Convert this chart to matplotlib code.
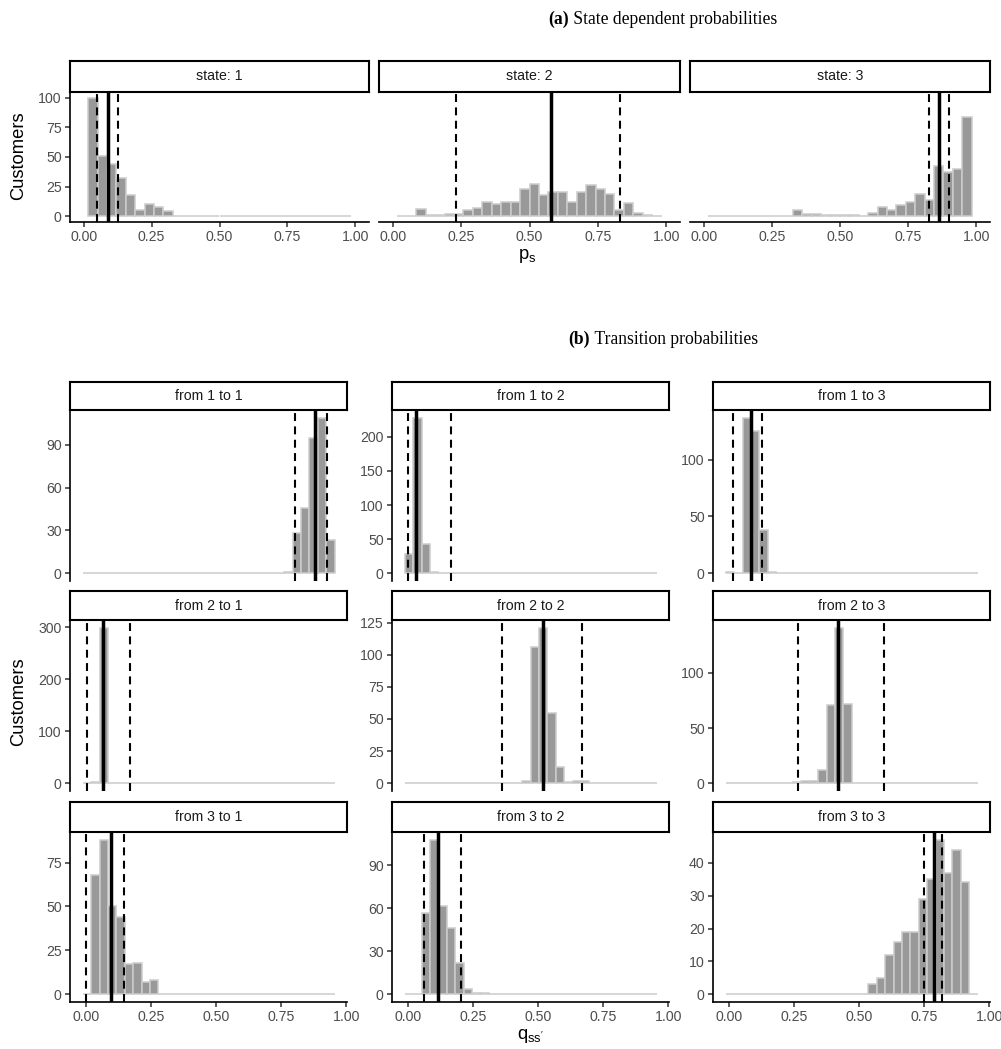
import numpy as np
import matplotlib
matplotlib.use("Agg")
import matplotlib.pyplot as plt

plt.rcParams["font.family"] = ["Liberation Sans", "DejaVu Sans"]
plt.rcParams["mathtext.fontset"] = "custom"
plt.rcParams["mathtext.rm"] = "Liberation Sans"
plt.rcParams["mathtext.it"] = "Liberation Sans:italic"
plt.rcParams["mathtext.bf"] = "Liberation Sans:bold"

# ---------------- data ----------------
# (a) state dependent probabilities: 28 bins of width 1/29 on [1/58, 57/58]
STATE_LABELS = ["state: 1", "state: 2", "state: 3"]
STATE_COUNTS = [
    [100, 51, 44, 32, 18, 5, 10, 8, 4, 0, 0, 0, 0, 0, 0, 0, 0, 0, 0, 0, 0, 0, 0, 0, 0, 0, 0, 0],
    [0, 0, 6, 1, 1, 2, 2, 5, 7, 12, 10, 12, 12, 23, 27, 18, 20, 20, 12, 20, 26, 23, 19, 5, 11, 3, 1, 0],
    [0, 0, 0, 0, 0, 0, 0, 0, 0, 5, 2, 2, 1, 1, 1, 1, 0, 3, 8, 5, 9, 12, 19, 14, 42, 37, 40, 84],
]
# lower bound, mean, upper bound
STATE_LINES = [
    [0.049, 0.089, 0.127],
    [0.230, 0.578, 0.829],
    [0.827, 0.863, 0.899],
]
STATE_YTICKS = [0, 25, 50, 75, 100]

# (b) transition probabilities: 30 bins on [-0.0128, 0.9553]
TRANS_LABELS = [
    "from 1 to 1", "from 1 to 2", "from 1 to 3",
    "from 2 to 1", "from 2 to 2", "from 2 to 3",
    "from 3 to 1", "from 3 to 2", "from 3 to 3",
]
TRANS_COUNTS = [
    [0, 0, 0, 0, 0, 0, 0, 0, 0, 0, 0, 0, 0, 0, 0, 0, 0, 0, 0, 0, 0, 0, 0, 0, 1, 28, 46, 95, 109, 23],
    [28, 228, 43, 2, 0, 0, 0, 0, 0, 0, 0, 0, 0, 0, 0, 0, 0, 0, 0, 0, 0, 0, 0, 0, 0, 0, 0, 0, 0, 0],
    [1, 0, 137, 125, 38, 1, 0, 0, 0, 0, 0, 0, 0, 0, 0, 0, 0, 0, 0, 0, 0, 0, 0, 0, 0, 0, 0, 0, 0, 0],
    [0, 3, 299, 1, 0, 0, 0, 0, 0, 0, 0, 0, 0, 0, 0, 0, 0, 0, 0, 0, 0, 0, 0, 0, 0, 0, 0, 0, 0, 0],
    [0, 0, 0, 0, 0, 0, 0, 0, 0, 0, 0, 0, 0, 0, 2, 106, 121, 55, 13, 1, 2, 2, 0, 0, 0, 0, 0, 0, 0, 0],
    [0, 0, 0, 0, 0, 0, 0, 0, 1, 2, 2, 12, 71, 141, 72, 0, 0, 0, 0, 0, 0, 0, 0, 0, 0, 0, 0, 0, 0, 0],
    [0, 68, 88, 50, 44, 17, 18, 7, 8, 0, 0, 0, 0, 0, 0, 0, 0, 0, 0, 0, 0, 0, 0, 0, 0, 0, 0, 0, 0, 0],
    [0, 0, 57, 108, 62, 46, 22, 4, 1, 1, 0, 0, 0, 0, 0, 0, 0, 0, 0, 0, 0, 0, 0, 0, 0, 0, 0, 0, 0, 0],
    [0, 0, 0, 0, 0, 0, 0, 0, 0, 0, 0, 0, 0, 0, 0, 0, 0, 3, 5, 12, 16, 19, 19, 29, 35, 47, 37, 44, 34, 0],
]
TRANS_LINES = [
    [0.803, 0.881, 0.926], [0.000, 0.031, 0.165], [0.013, 0.085, 0.127],
    [0.003, 0.065, 0.169], [0.360, 0.517, 0.667], [0.264, 0.417, 0.594],
    [0.001, 0.095, 0.147], [0.062, 0.114, 0.203], [0.750, 0.787, 0.819],
]
TRANS_YTICKS = [
    [0, 30, 60, 90], [0, 50, 100, 150, 200], [0, 50, 100],
    [0, 100, 200, 300], [0, 25, 50, 75, 100, 125], [0, 50, 100],
    [0, 25, 50, 75], [0, 30, 60, 90], [0, 10, 20, 30, 40],
]

X_TICKS = [0.0, 0.25, 0.5, 0.75, 1.0]
X_TICKLABELS = ["0.00", "0.25", "0.50", "0.75", "1.00"]

EDGES_A = np.linspace(1 / 58, 57 / 58, 29)
EDGES_B = np.linspace(-0.0128, 0.9553, 31)

# ---------------- style ----------------
W, H, DPI = 1001, 1049, 100
FILL = "#999999"
OUTLINE = "#CCCCCC"
TICK_COLOR = "#4D4D4D"
STRIP_TEXT = "#1A1A1A"
TICK_SIZE = 10.2
TITLE_SIZE = 13.2
SERIF = ["Liberation Serif", "DejaVu Serif"]

fig = plt.figure(figsize=(W / DPI, H / DPI), dpi=DPI)
fig.patch.set_facecolor("white")


def box(x0, y0, x1, y1):
    return [x0 / W, 1 - y1 / H, (x1 - x0) / W, (y1 - y0) / H]


def draw_hist(ax, edges, counts):
    edges = np.asarray(edges)
    centers = (edges[:-1] + edges[1:]) / 2
    ax.bar(centers, counts, width=np.diff(edges), color=FILL,
           edgecolor=OUTLINE, linewidth=1.1, zorder=2)


def draw_lines(ax, lines):
    lo, mid, hi = lines
    for v in (lo, hi):
        ax.axvline(v, color="black", lw=1.5, ls=(0, (3.8, 2.6)), zorder=3)
    ax.axvline(mid, color="black", lw=2.5, zorder=4)


def style_axes(ax, show_x, show_y, yticks):
    for s in ("top", "right"):
        ax.spines[s].set_visible(False)
    ax.spines["left"].set_visible(show_y)
    ax.spines["bottom"].set_visible(show_x)
    for s in ("left", "bottom"):
        ax.spines[s].set_linewidth(1.2)
        ax.spines[s].set_color("black")
    ax.tick_params(direction="out", length=3.6, width=1.1, color="#333333",
                   labelsize=TICK_SIZE, labelcolor=TICK_COLOR, pad=2.4)
    ax.set_xticks(X_TICKS)
    ax.set_xticklabels(X_TICKLABELS)
    ax.set_yticks(yticks)
    if not show_x:
        ax.tick_params(axis="x", bottom=False, labelbottom=False)
    if not show_y:
        ax.tick_params(axis="y", left=False, labelleft=False)
    ax.patch.set_alpha(0)


def strip(x0, y0, x1, y1, label):
    sax = fig.add_axes(box(x0, y0, x1, y1))
    sax.set_xticks([])
    sax.set_yticks([])
    for s in sax.spines.values():
        s.set_linewidth(1.5)
        s.set_color("black")
    sax.text(0.5, 0.5, label, ha="center", va="center", fontsize=TICK_SIZE,
             color=STRIP_TEXT, transform=sax.transAxes)


def two_part_title(cx, baseline_y, bold, rest, size):
    r = fig.canvas.get_renderer()
    t1 = fig.text(0, 0, bold, family=SERIF, fontweight="bold", fontsize=size, va="baseline")
    t2 = fig.text(0, 0, "\u00a0" + rest, family=SERIF, fontsize=size, va="baseline")
    w1 = t1.get_window_extent(r).width
    w2 = t2.get_window_extent(r).width
    x0 = cx - (w1 + w2) / 2
    t1.set_position((x0 / W, 1 - baseline_y / H))
    t2.set_position(((x0 + w1) / W, 1 - baseline_y / H))


# ---------------- (a) ----------------
two_part_title(663, 24, "(a)", "State dependent probabilities", 12.7)

cols_a = [(70, 369), (379, 680), (690, 990)]
ymax_a = max(max(c) for c in STATE_COUNTS)
for i, (x0, x1) in enumerate(cols_a):
    ax = fig.add_axes(box(x0, 92, x1, 222))
    draw_hist(ax, EDGES_A, STATE_COUNTS[i])
    draw_lines(ax, STATE_LINES[i])
    ax.set_xlim(-0.05, 1.05)
    ax.set_ylim(-0.05 * ymax_a, 1.05 * ymax_a)
    style_axes(ax, True, i == 0, STATE_YTICKS)
    strip(x0, 61, x1, 92, STATE_LABELS[i])

fig.text(19 / W, 1 - 156 / H, "Customers", rotation=90, ha="center", va="center",
         fontsize=TITLE_SIZE)
fig.text(527 / W, 1 - 256 / H, r"$\mathrm{p_s}$", ha="center", va="center",
         fontsize=TITLE_SIZE)

# ---------------- (b) ----------------
two_part_title(663, 344, "(b)", "Transition probabilities", 12.7)

cols_b = [(70, 347), (392, 669), (713, 990)]
rows_b = [(382, 410, 581), (591, 620, 791), (802, 832, 1002)]
for r, (s0, p0, p1) in enumerate(rows_b):
    for c, (x0, x1) in enumerate(cols_b):
        k = 3 * r + c
        ax = fig.add_axes(box(x0, p0, x1, p1))
        draw_hist(ax, EDGES_B, TRANS_COUNTS[k])
        draw_lines(ax, TRANS_LINES[k])
        ymax = max(TRANS_COUNTS[k])
        ax.set_xlim(-0.062, 1.003)
        ax.set_ylim(-0.05 * ymax, 1.05 * ymax)
        style_axes(ax, r == 2, True, TRANS_YTICKS[k])
        strip(x0, s0, x1, p0, TRANS_LABELS[k])

fig.text(19 / W, 1 - 702 / H, "Customers", rotation=90, ha="center", va="center",
         fontsize=TITLE_SIZE)
fig.text(530 / W, 1 - 1036 / H, r"$\mathrm{q_{ss'}}$", ha="center", va="center",
         fontsize=TITLE_SIZE)

fig.savefig("out.png", dpi=DPI, facecolor="white")
